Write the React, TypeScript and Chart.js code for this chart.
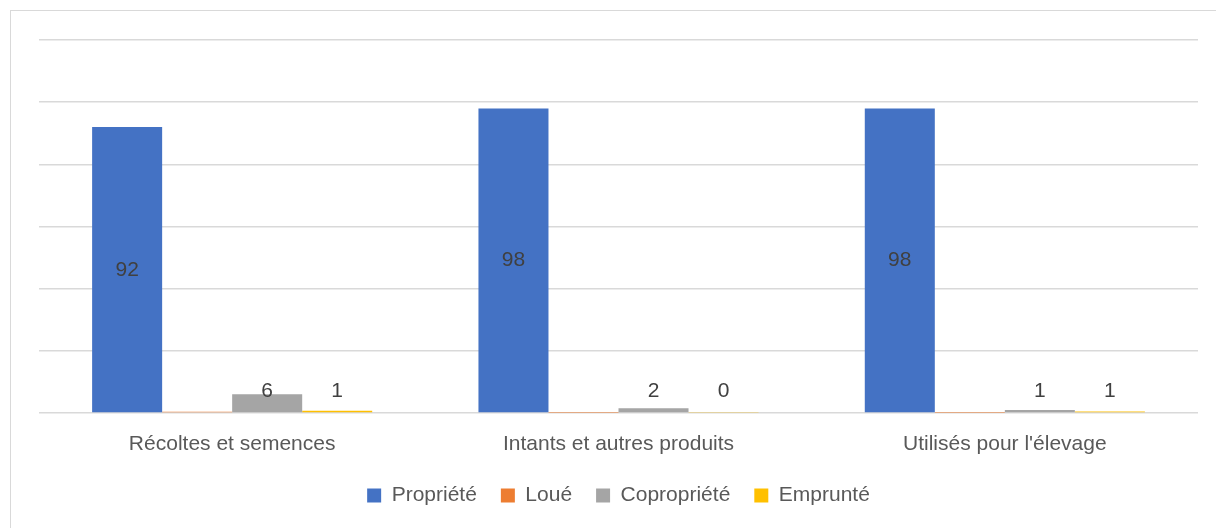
import React, { useEffect, useRef } from "react";
import { Chart, registerables } from "chart.js";

Chart.register(...registerables);

const categories = ["Récoltes et semences", "Intants et autres produits", "Utilisés pour l'élevage"];
const seriesNames = ["Propriété", "Loué", "Copropriété", "Emprunté"];
const propriete = [92, 98, 98];
const loue = [0.4, 0.1, 0.1];
const copropriete = [6, 1.5, 1];
const emprunte = [0.75, 0.15, 0.5];
const showLabels = [true, false, true, true];
const colors = ["#4472C4", "#ED7D31", "#A5A5A5", "#FFC000"];
const yMax = 120;
const yStep = 20;

const FONT = "'Liberation Sans', Arial, sans-serif";

const labelPlugin = {
  id: "barLabels",
  afterDatasetsDraw(chart: any) {
    const ctx = chart.ctx;
    const yScale = chart.scales.y;
    const zeroY = yScale.getPixelForValue(0);
    ctx.save();
    ctx.font = `21px ${FONT}`;
    ctx.fillStyle = "#404040";
    ctx.textAlign = "center";
    chart.data.datasets.forEach((ds: any, di: number) => {
      if (!showLabels[di]) return;
      const meta = chart.getDatasetMeta(di);
      meta.data.forEach((bar: any, i: number) => {
        const v = Math.round(ds.data[i]);
        const text = String(v);
        if (di === 0) {
          ctx.textBaseline = "middle";
          ctx.fillText(text, bar.x, (bar.y + zeroY) / 2);
        } else {
          ctx.textBaseline = "alphabetic";
          ctx.fillText(text, bar.x, zeroY - 16);
        }
      });
    });
    ctx.restore();
  },
};

export default function App() {
  const ref = useRef<HTMLCanvasElement | null>(null);
  useEffect(() => {
    if (!ref.current) return;
    const data = [propriete, loue, copropriete, emprunte];
    const chart = new Chart(ref.current, {
      type: "bar",
      data: {
        labels: categories,
        datasets: seriesNames.map((name, i) => ({
          label: name,
          data: data[i],
          backgroundColor: colors[i],
          borderWidth: 0,
          categoryPercentage: 0.725,
          barPercentage: 1.0,
        })),
      },
      options: {
        animation: false,
        responsive: false,
        maintainAspectRatio: false,
        layout: { padding: { left: 39, right: 18, top: 40, bottom: 12 } },
        plugins: {
          tooltip: { enabled: false },
          legend: {
            position: "bottom",
            labels: {
              font: { family: FONT, size: 21 },
              color: "#595959",
              boxWidth: 14,
              boxHeight: 14,
              padding: 24,
            },
          },
        },
        scales: {
          x: {
            grid: { display: false },
            border: { display: false },
            ticks: {
              font: { family: FONT, size: 21 },
              color: "#595959",
              padding: 11,
            },
            afterFit(scale: any) {
              scale.height = 48;
            },
          },
          y: {
            min: 0,
            max: yMax,
            ticks: { display: false, stepSize: yStep },
            grid: { color: "#D9D9D9", lineWidth: 1.5, drawTicks: false },
            border: { display: false },
          },
        },
      },
      plugins: [labelPlugin],
    });
    return () => chart.destroy();
  }, []);
  return (
    <div style={{ position: "absolute", left: 0, top: 0, width: 1216, height: 528, overflow: "hidden", background: "#fff" }}>
      <div style={{ position: "absolute", left: 10, top: 10, width: 1300, height: 600, border: "1px solid #D9D9D9" }} />
      <canvas ref={ref} width={1216} height={528} style={{ position: "absolute", left: 0, top: 0, width: 1216, height: 528 }} />
    </div>
  );
}
